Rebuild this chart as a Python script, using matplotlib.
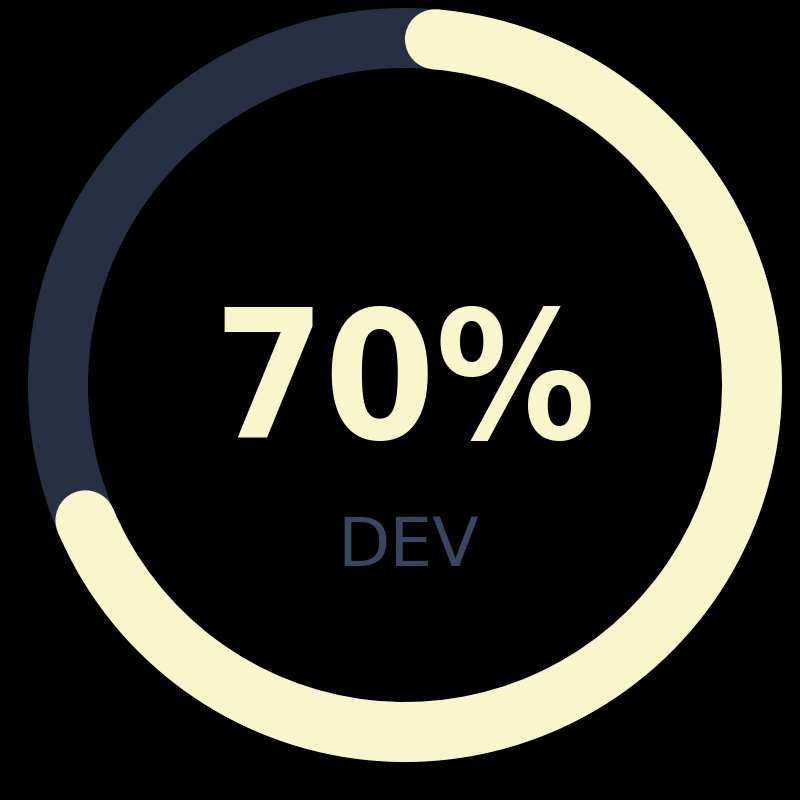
import numpy as np
import matplotlib
matplotlib.use("Agg")
import matplotlib.pyplot as plt
from matplotlib.patches import Wedge, Circle

# data
value = 70          # percent
max_value = 100
label = "DEV"

# style
bg = "#000000"
track_color = "#272f43"
bar_color = "#f9f6cb"
label_color = "#3a4560"

cx, cy = 405, 415
r_out = 377
width = 60
r_mid = r_out - width / 2

fig = plt.figure(figsize=(8, 8), dpi=100, facecolor=bg)
ax = fig.add_axes([0, 0, 1, 1])
ax.set_facecolor(bg)
ax.set_xlim(0, 800)
ax.set_ylim(0, 800)
ax.set_aspect("equal")
ax.axis("off")

# track
ax.add_patch(Wedge((cx, cy), r_out, 0, 360, width=width, color=track_color, lw=0))

# progress arc, clockwise from top, round caps kept inside the angle range
frac = value / max_value
start = 90.0
end = 90.0 - 360.0 * frac
delta = np.degrees((width / 2) / r_mid)
t1, t2 = end + delta, start - delta
ax.add_patch(Wedge((cx, cy), r_out, t1, t2, width=width, color=bar_color, lw=0))
for t in (t1, t2):
    a = np.radians(t)
    ax.add_patch(Circle((cx + r_mid * np.cos(a), cy + r_mid * np.sin(a)), width / 2,
                        color=bar_color, lw=0))

ax.text(405, 362, f"{value}%", color=bar_color, fontsize=128, fontweight="bold",
        ha="center", va="baseline", family="DejaVu Sans", fontstretch="condensed")
ax.text(408, 234, label, color=label_color, fontsize=49,
        ha="center", va="baseline", family="DejaVu Sans")

fig.savefig("out.png", dpi=100, facecolor=bg)
